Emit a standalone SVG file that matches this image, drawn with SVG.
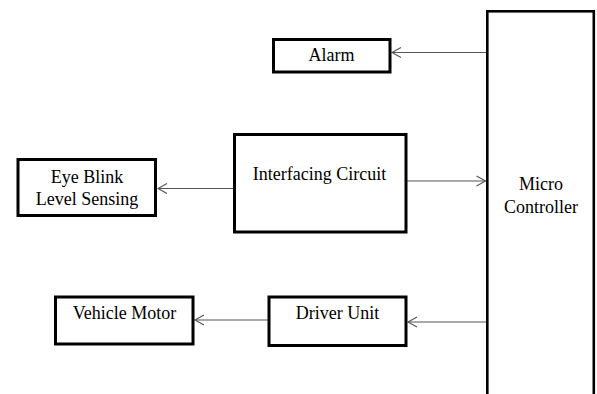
<svg xmlns="http://www.w3.org/2000/svg" width="597" height="394" viewBox="0 0 597 394">
  <style>
    .box { fill: #ffffff; stroke: #000000; stroke-width: 3; }
    .mc { fill: #ffffff; stroke: #000000; stroke-width: 2.6; }
    .wire { stroke: #555555; stroke-width: 1.1; fill: none; marker-end: url(#openArrow); }
  </style>
  <defs>
    <marker id="openArrow" markerUnits="userSpaceOnUse" markerWidth="12" markerHeight="12" refX="0" refY="0" viewBox="-11 -6 12 12" orient="auto" overflow="visible">
      <path d="M-9,-5 L0,0 L-9,5" fill="none" stroke="#555555" stroke-width="1.1"/>
    </marker>
  </defs>
  <rect width="597" height="394" fill="#ffffff"/>

  <g id="connectors">
    <line class="wire" x1="486" y1="52.5" x2="392" y2="52.5"/>
    <line class="wire" x1="233" y1="188.5" x2="158" y2="188.5"/>
    <line class="wire" x1="407" y1="181" x2="485.5" y2="181"/>
    <line class="wire" x1="486" y1="322" x2="408" y2="322"/>
    <line class="wire" x1="268" y1="320" x2="195" y2="320"/>
  </g>

  <g font-family="'Liberation Serif', 'Times New Roman', 'DejaVu Serif', serif" font-size="18" fill="#000000" text-anchor="middle">
    <g id="micro-controller">
      <rect class="mc" x="487.3" y="11.3" width="106.5" height="400"/>
      <text x="541" y="190">Micro</text>
      <text x="541" y="213">Controller</text>
    </g>

    <g id="alarm">
      <rect class="box" x="273.5" y="39.5" width="116.5" height="32.5"/>
      <text x="331.5" y="61">Alarm</text>
    </g>

    <g id="interfacing-circuit">
      <rect class="box" x="234.5" y="134.5" width="171.5" height="97.5"/>
      <text x="319.5" y="180">Interfacing Circuit</text>
    </g>

    <g id="eye-blink">
      <rect class="box" x="18" y="159.5" width="137.5" height="56"/>
      <text x="87" y="182.5">Eye Blink</text>
      <text x="87" y="205">Level Sensing</text>
    </g>

    <g id="vehicle-motor">
      <rect class="box" x="55.5" y="297" width="137.5" height="47"/>
      <text x="124.5" y="319.3">Vehicle Motor</text>
    </g>

    <g id="driver-unit">
      <rect class="box" x="269" y="297" width="137" height="48.5"/>
      <text x="337.5" y="318.5">Driver Unit</text>
    </g>
  </g>
</svg>
